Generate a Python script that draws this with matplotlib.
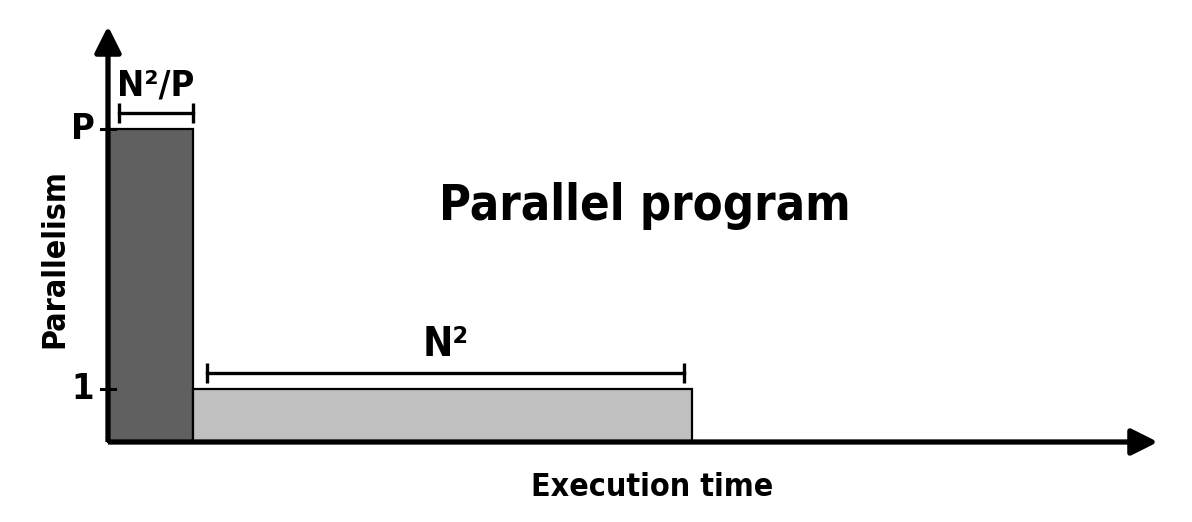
import matplotlib
matplotlib.use('Agg')
import matplotlib.pyplot as plt
from matplotlib.patches import FancyArrowPatch
from matplotlib import font_manager

# look for a narrow bold face, fall back to condensed DejaVu
names = {f.name for f in font_manager.fontManager.ttflist}
narrow = [n for n in ['Liberation Sans Narrow', 'DejaVu Sans'] if n in names]
plt.rcParams['font.family'] = narrow + ['DejaVu Sans']
plt.rcParams['font.weight'] = 'bold'
plt.rcParams['font.stretch'] = 'condensed'

# data: one parallel phase, then one serial phase
phases = ['parallel', 'serial']
durations = [1.0, 5.87]          # in units of N^2/P
parallelism = [5.9, 1.0]         # P, 1
phase_colors = ['#606060', '#c0c0c0']
duration_labels = ['N²/P', 'N²']
level_labels = ['P', '1']

# pixel scale of one unit on each axis
W, H = 1192, 522
OX, OY = 108, 442
UX, UY = 85.0, 53.0

fig = plt.figure(figsize=(W / 100, H / 100), dpi=100)
ax = fig.add_axes([0, 0, 1, 1])
ax.set_xlim(-OX / UX, (W - OX) / UX)
ax.set_ylim(-(H - OY) / UY, OY / UY)
ax.axis('off')

starts = [sum(durations[:i]) for i in range(len(durations))]
ax.bar(starts, parallelism, width=durations, align='edge', color=phase_colors,
       edgecolor='black', linewidth=1.6, zorder=2)

# axes with arrow heads
for end in [(0, (OY - 26) / UY), ((1158 - OX) / UX, 0)]:
    arr = FancyArrowPatch((0, 0), end, arrowstyle='-|>,head_length=0.8,head_width=0.4',
                          mutation_scale=20, color='black', linewidth=3.8,
                          shrinkA=0, shrinkB=0, zorder=3, capstyle='butt')
    ax.add_patch(arr)

# ticks on the parallelism axis
tick = 7 / UX
for lvl, lab in zip(parallelism, level_labels):
    ax.plot([-tick, tick], [lvl, lvl], color='black', linewidth=2.2, zorder=4)
    ax.text(-25 / UX, lvl, lab, ha='center', va='center', fontsize=26)

# brackets showing durations
bracket_y = [parallelism[0] + 16 / UY, parallelism[1] + 16 / UY]
bracket_pad = [(11 / UX, 0.0), (14 / UX, -8 / UX)]
label_size = [26, 29]
for s, d, by, (pl, pr), lab, fs in zip(starts, durations, bracket_y, bracket_pad,
                                       duration_labels, label_size):
    x0, x1 = s + pl, s + d + pr
    ax.plot([x0, x1], [by, by], color='black', linewidth=2.4, marker='|',
            markersize=15, markeredgewidth=2.4, zorder=4)
    ax.text((x0 + x1) / 2, by + 28 / UY, lab, ha='center', va='center', fontsize=fs)

fig.text(645 / W, 1 - 206 / H, 'Parallel program', ha='center', va='center', fontsize=35)
fig.text(652 / W, 1 - 487 / H, 'Execution time', ha='center', va='center', fontsize=23)
fig.text(55 / W, 1 - 259 / H, 'Parallelism', ha='center', va='center', fontsize=23,
         rotation=90)

fig.savefig('out.png', dpi=100)
